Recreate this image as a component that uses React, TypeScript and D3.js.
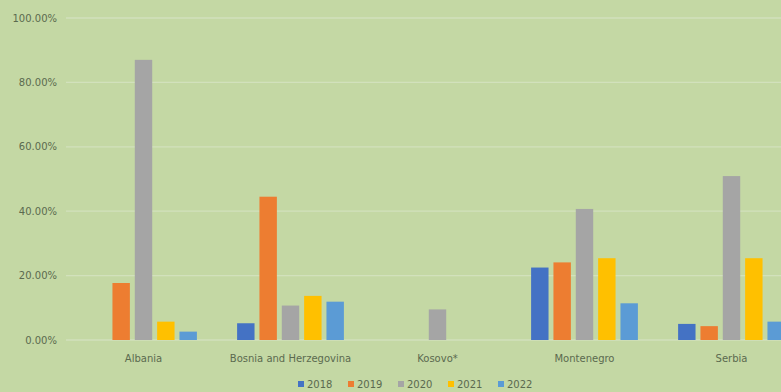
import React from "react";
import * as d3 from "d3";

const categories = ["Albania", "Bosnia and Herzegovina", "Kosovo*", "Montenegro", "Serbia"];
const seriesNames = ["2018", "2019", "2020", "2021", "2022"];
const values2018 = [0, 5.2, 0, 22.5, 5.0];
const values2019 = [17.7, 44.5, 0, 24.1, 4.3];
const values2020 = [87.0, 10.7, 9.5, 40.7, 50.9];
const values2021 = [5.7, 13.7, 0, 25.4, 25.4];
const values2022 = [2.6, 11.9, 0, 11.4, 5.7];
const yTicks = [0, 20, 40, 60, 80, 100];
const colors = ["#4472C4", "#ED7D31", "#A5A5A5", "#FFC000", "#5B9BD5"];

const series = [values2018, values2019, values2020, values2021, values2022];

export default function App() {
  const W = 781, H = 392;
  const left = 70, right = 805, top = 18, bottom = 340;
  const x = d3.scaleBand<string>().domain(categories).range([left, right]).paddingInner(0).paddingOuter(0);
  const xi = d3.scaleBand<string>().domain(seriesNames).range([0, x.bandwidth()]).paddingInner(0.22).paddingOuter(0.9);
  const y = d3.scaleLinear().domain([0, 100]).range([bottom, top]);
  const font = "'DejaVu Sans', Verdana, sans-serif";
  const textColor = "#5b6a4f";
  return (
    <svg width={W} height={H} style={{ position: "absolute", left: 0, top: 0 }} fontFamily={font}>
      <rect x={0} y={0} width={W} height={H} fill="#c4d8a4" />
      {yTicks.map((t) => (
        <g key={t}>
          <line x1={left - 4} x2={W} y1={y(t)} y2={y(t)} stroke="#d2e1bc" strokeWidth={1.3} />
          <text x={57} y={y(t) + 3.5} textAnchor="end" fontSize={10} fill={textColor}>
            {d3.format(".2f")(t) + "%"}
          </text>
        </g>
      ))}
      {categories.map((c, ci) => (
        <g key={c}>
          {series.map((s, si) =>
            s[ci] > 0 ? (
              <rect
                key={si}
                x={(x(c) as number) + (xi(seriesNames[si]) as number)}
                width={xi.bandwidth()}
                y={y(s[ci])}
                height={bottom - y(s[ci])}
                fill={colors[si]}
              />
            ) : null
          )}
          <text x={(x(c) as number) + x.bandwidth() / 2} y={362} textAnchor="middle" fontSize={10} fill={textColor}>
            {c}
          </text>
        </g>
      ))}
      {seriesNames.map((n, i) => (
        <g key={n} transform={`translate(${298 + i * 50},0)`}>
          <rect x={0} y={381} width={6} height={6} fill={colors[i]} />
          <text x={9} y={388} fontSize={10} fill={textColor}>{n}</text>
        </g>
      ))}
    </svg>
  );
}
